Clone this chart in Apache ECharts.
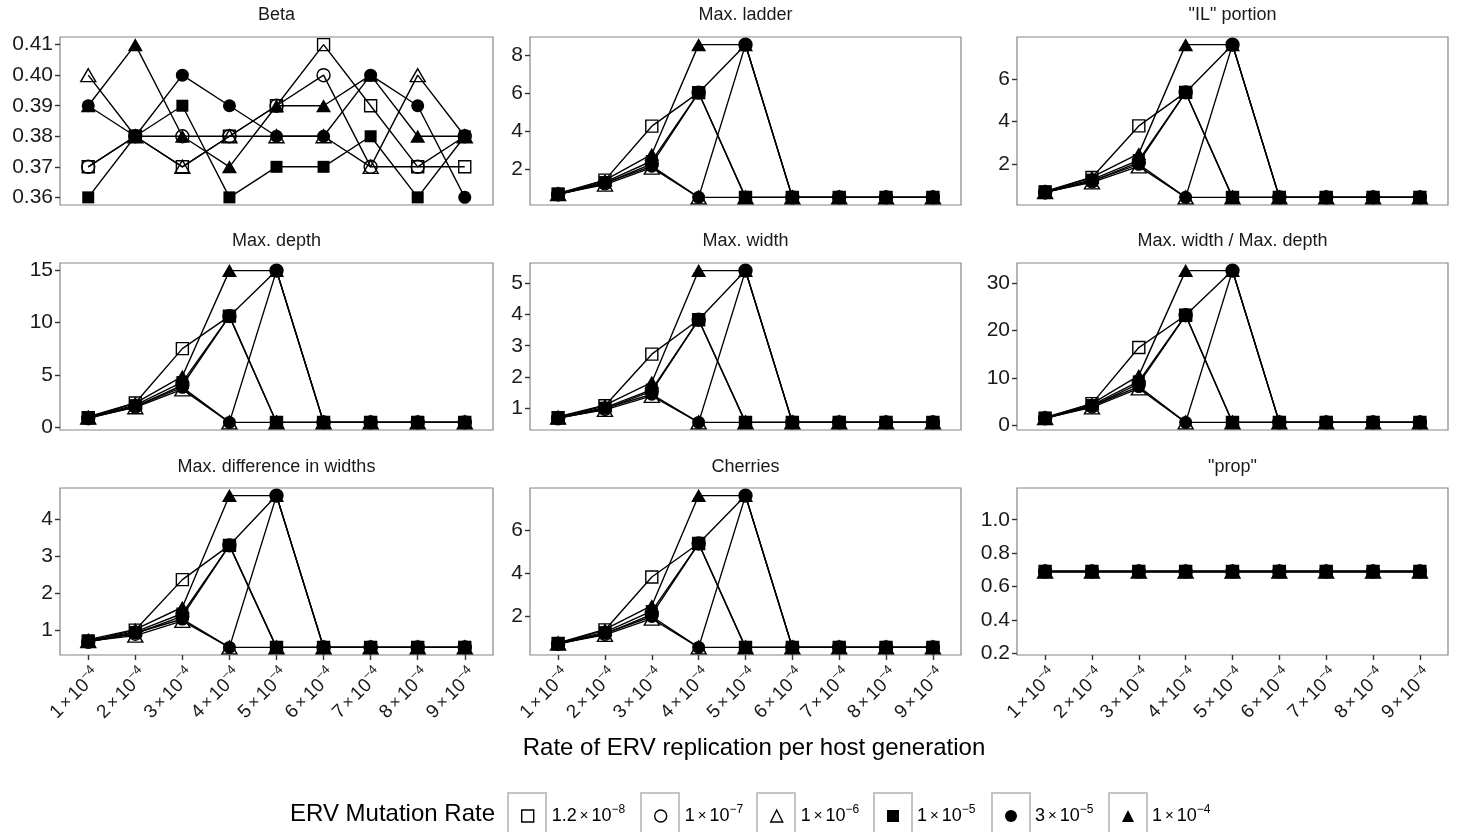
<!DOCTYPE html>
<html>
<head>
<meta charset="utf-8">
<script src="https://cdn.jsdelivr.net/npm/echarts@6/dist/echarts.min.js"></script>
<style>
html, body { margin: 0; padding: 0; background: #fff; }
#chart { width: 1457px; height: 832px; }
</style>
</head>
<body>
<div id="chart"></div>
<script>
// x: rate of ERV replication, in units of 10^-4
const rates = [1, 2, 3, 4, 5, 6, 7, 8, 9];

// ERV mutation rates (legend), as mantissa and exponent
const mutBase = ["1.2", "1", "1", "1", "3", "1"];
const mutExp = ["-8", "-7", "-6", "-5", "-5", "-4"];

// one row per mutation rate, same order as above
const beta = [
    [0.37, 0.38, 0.37, 0.38, 0.39, 0.41, 0.39, 0.37, 0.37],
    [0.37, 0.38, 0.38, 0.38, 0.39, 0.40, 0.37, 0.37, 0.38],
    [0.40, 0.38, 0.37, 0.38, 0.38, 0.38, 0.37, 0.40, 0.38],
    [0.36, 0.38, 0.39, 0.36, 0.37, 0.37, 0.38, 0.36, 0.38],
    [0.39, 0.38, 0.40, 0.39, 0.38, 0.38, 0.40, 0.39, 0.36],
    [0.39, 0.41, 0.38, 0.37, 0.39, 0.39, 0.40, 0.38, 0.38]
];
const ladder = [
    [0.72, 1.45, 4.27, 6.02, 0.55, 0.55, 0.55, 0.55, 0.55],
    [0.70, 1.28, 2.30, 6.02, 8.53, 0.55, 0.55, 0.55, 0.55],
    [0.72, 1.22, 2.10, 0.55, 0.55, 0.55, 0.55, 0.55, 0.55],
    [0.74, 1.35, 2.45, 6.02, 0.55, 0.55, 0.55, 0.55, 0.55],
    [0.71, 1.30, 2.18, 0.55, 8.53, 0.55, 0.55, 0.55, 0.55],
    [0.75, 1.45, 2.80, 8.53, 8.53, 0.55, 0.55, 0.55, 0.55]
];
const ilPortion = [
    [0.70, 1.38, 3.80, 5.37, 0.45, 0.45, 0.45, 0.45, 0.45],
    [0.68, 1.20, 2.10, 5.37, 7.61, 0.45, 0.45, 0.45, 0.45],
    [0.70, 1.15, 1.90, 0.45, 0.45, 0.45, 0.45, 0.45, 0.45],
    [0.72, 1.28, 2.20, 5.37, 0.45, 0.45, 0.45, 0.45, 0.45],
    [0.69, 1.22, 2.00, 0.45, 7.61, 0.45, 0.45, 0.45, 0.45],
    [0.73, 1.40, 2.50, 7.61, 7.61, 0.45, 0.45, 0.45, 0.45]
];
const maxDepth = [
    [0.90, 2.30, 7.50, 10.60, 0.45, 0.45, 0.45, 0.45, 0.45],
    [0.85, 1.95, 4.00, 10.60, 14.95, 0.45, 0.45, 0.45, 0.45],
    [0.90, 1.90, 3.60, 0.45, 0.45, 0.45, 0.45, 0.45, 0.45],
    [0.95, 2.10, 4.30, 10.60, 0.45, 0.45, 0.45, 0.45, 0.45],
    [0.88, 2.00, 3.80, 0.45, 14.95, 0.45, 0.45, 0.45, 0.45],
    [1.00, 2.30, 4.85, 14.95, 14.95, 0.45, 0.45, 0.45, 0.45]
];
const maxWidth = [
    [0.70, 1.08, 2.73, 3.83, 0.55, 0.55, 0.55, 0.55, 0.55],
    [0.68, 0.98, 1.55, 3.83, 5.40, 0.55, 0.55, 0.55, 0.55],
    [0.70, 0.95, 1.40, 0.55, 0.55, 0.55, 0.55, 0.55, 0.55],
    [0.72, 1.02, 1.60, 3.83, 0.55, 0.55, 0.55, 0.55, 0.55],
    [0.69, 1.00, 1.45, 0.55, 5.40, 0.55, 0.55, 0.55, 0.55],
    [0.73, 1.10, 1.83, 5.40, 5.40, 0.55, 0.55, 0.55, 0.55]
];
const widthDepth = [
    [1.55, 4.60, 16.40, 23.20, 0.65, 0.65, 0.65, 0.65, 0.65],
    [1.50, 4.00, 8.80, 23.20, 32.60, 0.65, 0.65, 0.65, 0.65],
    [1.55, 3.80, 7.80, 0.65, 0.65, 0.65, 0.65, 0.65, 0.65],
    [1.60, 4.30, 9.30, 23.20, 0.65, 0.65, 0.65, 0.65, 0.65],
    [1.52, 4.10, 8.20, 0.65, 32.60, 0.65, 0.65, 0.65, 0.65],
    [1.70, 4.60, 10.50, 32.60, 32.60, 0.65, 0.65, 0.65, 0.65]
];
const diffWidths = [
    [0.70, 1.00, 2.37, 3.30, 0.53, 0.53, 0.53, 0.53, 0.53],
    [0.68, 0.90, 1.38, 3.30, 4.65, 0.53, 0.53, 0.53, 0.53],
    [0.70, 0.85, 1.25, 0.53, 0.53, 0.53, 0.53, 0.53, 0.53],
    [0.72, 0.95, 1.45, 3.30, 0.53, 0.53, 0.53, 0.53, 0.53],
    [0.69, 0.92, 1.30, 0.53, 4.65, 0.53, 0.53, 0.53, 0.53],
    [0.74, 1.02, 1.62, 4.65, 4.65, 0.53, 0.53, 0.53, 0.53]
];
const cherries = [
    [0.75, 1.38, 3.83, 5.38, 0.57, 0.57, 0.57, 0.57, 0.57],
    [0.73, 1.20, 2.10, 5.38, 7.60, 0.57, 0.57, 0.57, 0.57],
    [0.75, 1.15, 1.90, 0.57, 0.57, 0.57, 0.57, 0.57, 0.57],
    [0.77, 1.28, 2.25, 5.38, 0.57, 0.57, 0.57, 0.57, 0.57],
    [0.74, 1.22, 2.00, 0.57, 7.60, 0.57, 0.57, 0.57, 0.57],
    [0.78, 1.40, 2.50, 7.60, 7.60, 0.57, 0.57, 0.57, 0.57]
];
const prop = [
    [0.69, 0.69, 0.69, 0.69, 0.69, 0.69, 0.69, 0.69, 0.69],
    [0.69, 0.69, 0.69, 0.69, 0.69, 0.69, 0.69, 0.69, 0.69],
    [0.69, 0.69, 0.69, 0.69, 0.69, 0.69, 0.69, 0.69, 0.69],
    [0.69, 0.69, 0.69, 0.69, 0.69, 0.69, 0.69, 0.69, 0.69],
    [0.69, 0.69, 0.69, 0.69, 0.69, 0.69, 0.69, 0.69, 0.69],
    [0.69, 0.69, 0.69, 0.69, 0.69, 0.69, 0.69, 0.69, 0.69]
];

// y tick values per panel
const betaTicks = [0.36, 0.37, 0.38, 0.39, 0.40, 0.41];
const ladderTicks = [2, 4, 6, 8];
const ilTicks = [2, 4, 6];
const depthTicks = [0, 5, 10, 15];
const widthTicks = [1, 2, 3, 4, 5];
const wdTicks = [0, 10, 20, 30];
const diffTicks = [1, 2, 3, 4];
const cherryTicks = [2, 4, 6];
const propTicks = [0.2, 0.4, 0.6, 0.8, 1.0];

const panelTitles = ["Beta", "Max. ladder", "\"IL\" portion", "Max. depth", "Max. width",
    "Max. width / Max. depth", "Max. difference in widths", "Cherries", "\"prop\""];
const panelData = [beta, ladder, ilPortion, maxDepth, maxWidth, widthDepth, diffWidths, cherries, prop];
const panelTicks = [betaTicks, ladderTicks, ilTicks, depthTicks, widthTicks, wdTicks, diffTicks, cherryTicks, propTicks];
const panelDecimals = [2, 0, 0, 0, 0, 0, 0, 0, 1];

// layout
const colLeft = [60, 530, 1017];
const colWidth = [433, 431, 431];
const rowTop = [37, 263, 488];
const rowHeight = [168, 167, 167];
const titleTop = [6, 232, 458];
const legendX = [527, 660, 776, 893, 1011, 1128];

const FONT = "'Liberation Sans', Arial, Helvetica, sans-serif";
const INK = "#1a1a1a";
const shapes = ["rect", "circle", "triangle", "rect", "circle", "triangle"];
const filled = [false, false, false, true, true, true];
const symSize = { rect: 12, circle: 13, triangle: [15, 13] };

const seriesNames = mutBase.map((b, i) => b + "×10^" + mutExp[i]);

function yRange(rows) {
    const all = rows.flat();
    const lo = Math.min(...all), hi = Math.max(...all);
    if (hi === lo) return [lo - 0.5, hi + 0.5];
    const pad = (hi - lo) * 0.05;
    return [lo - pad, hi + pad];
}

function markStyle(k) {
    return filled[k]
        ? { color: "#000", borderColor: "#000", borderWidth: 0, opacity: 1 }
        : { color: "rgba(0,0,0,0)", borderColor: "#000", borderWidth: 1.4, opacity: 1 };
}

function powLabel(base, exp) {
    return "{b|" + base + "}{m|×}{b|10}{s|" + exp.replace("-", "−") + "}";
}
function powRich(size, color) {
    return {
        b: { fontSize: size, fontFamily: FONT, color: color, lineHeight: size + 6 },
        m: { fontSize: size - 3, fontFamily: FONT, color: color, lineHeight: size + 6, padding: [0, 3, 0, 3] },
        s: { fontSize: Math.round(size * 0.68), fontFamily: FONT, color: color, lineHeight: Math.round(size * 0.68), verticalAlign: "top" }
    };
}

const grids = [], xAxes = [], yAxes = [], series = [], titles = [];

panelData.forEach(function (rows, p) {
    const row = Math.floor(p / 3), col = p % 3;
    const range = yRange(rows);
    const bottomRow = row === 2;

    grids.push({
        left: colLeft[col], top: rowTop[row], width: colWidth[col], height: rowHeight[row],
        show: true, borderColor: "#858585", borderWidth: 1.2, backgroundColor: "#fff"
    });
    xAxes.push({
        gridIndex: p, type: "value", min: 0.4, max: 9.6,
        axisLine: { show: false }, splitLine: { show: false },
        axisTick: { show: bottomRow, customValues: rates, length: 5, lineStyle: { color: "#333", width: 1.4 } },
        axisLabel: {
            show: bottomRow, customValues: rates, rotate: 45, margin: 8,
            align: "right", verticalAlign: "top",
            formatter: v => powLabel(String(v), "-4"),
            rich: powRich(19, INK)
        }
    });
    yAxes.push({
        gridIndex: p, type: "value", min: range[0], max: range[1],
        axisLine: { show: false }, splitLine: { show: false },
        axisTick: { show: true, customValues: panelTicks[p], length: 5, lineStyle: { color: "#333", width: 1.4 } },
        axisLabel: {
            customValues: panelTicks[p], margin: 7,
            formatter: v => Number(v).toFixed(panelDecimals[p]),
            fontSize: 21, fontFamily: FONT, color: INK
        }
    });
    titles.push({
        text: panelTitles[p], left: colLeft[col] + colWidth[col] / 2, top: titleTop[row],
        textAlign: "center", padding: 0,
        textStyle: { fontSize: 18, fontWeight: "normal", fontFamily: FONT, color: INK }
    });

    rows.forEach(function (vals, k) {
        const pts = rates.map((r, i) => [r, vals[i]]);
        series.push({
            name: seriesNames[k], type: "line", xAxisIndex: p, yAxisIndex: p,
            data: pts, showSymbol: false, symbol: "none", z: 2,
            lineStyle: { color: "#000", width: 1.4 }
        });
        series.push({
            name: seriesNames[k], type: "scatter", xAxisIndex: p, yAxisIndex: p,
            data: pts, symbol: shapes[k], symbolSize: symSize[shapes[k]],
            z: (p > 0 && k === 4) ? 4 : 3,
            itemStyle: markStyle(k)
        });
    });
});

titles.push({
    text: "Rate of ERV replication per host generation", left: 754, top: 736,
    textAlign: "center", padding: 0,
    textStyle: { fontSize: 24, fontWeight: "normal", fontFamily: FONT, color: "#000" }
});
titles.push({
    text: "ERV Mutation Rate", left: 290, top: 802, padding: 0,
    textStyle: { fontSize: 24, fontWeight: "normal", fontFamily: FONT, color: "#000" }
});

const legends = seriesNames.map(function (name, k) {
    return {
        left: legendX[k] - 6, top: 804, padding: 0,
        itemWidth: 12, itemHeight: 12, selectedMode: false,
        data: [{ name: name, icon: shapes[k], itemStyle: markStyle(k) }],
        formatter: () => "{p|}" + powLabel(mutBase[k], mutExp[k]),
        textStyle: { rich: Object.assign({ p: { width: 13 } }, powRich(18, "#000")) }
    };
});

const frames = legendX.map(x => ({
    type: "rect", shape: { x: x - 19, y: 793, width: 38, height: 50 },
    style: { fill: "none", stroke: "#c4c4c4", lineWidth: 2 }, z: -1
}));

const chart = echarts.init(document.getElementById("chart"));
chart.setOption({
    backgroundColor: "#fff",
    animation: false,
    title: titles,
    grid: grids,
    xAxis: xAxes,
    yAxis: yAxes,
    legend: legends,
    graphic: frames,
    series: series
});
</script>
</body>
</html>
